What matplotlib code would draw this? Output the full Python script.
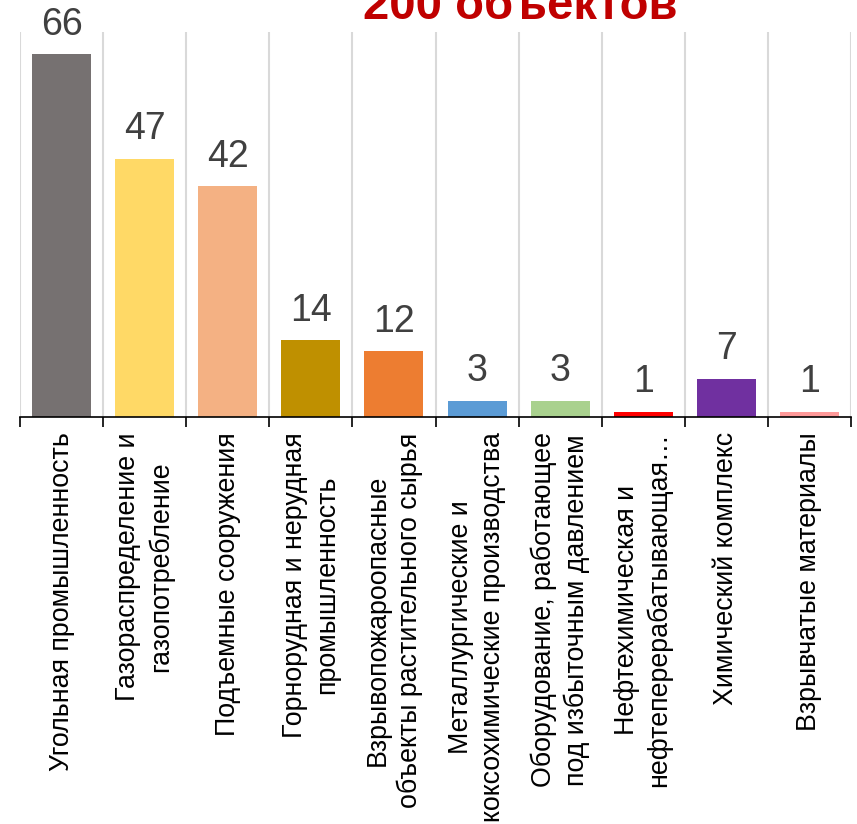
import matplotlib
matplotlib.use("Agg")
import matplotlib.pyplot as plt
import numpy as np

categories = [
    "Угольная промышленность",
    "Газораспределение и\nгазопотребление",
    "Подъемные сооружения",
    "Горнорудная и нерудная\nпромышленность",
    "Взрывопожароопасные\nобъекты растительного сырья",
    "Металлургические и\nкоксохимические производства",
    "Оборудование, работающее\nпод избыточным давлением",
    "Нефтехимическая и\nнефтеперерабатывающая…",
    "Химический комплекс",
    "Взрывчатые материалы",
]
values = [66, 47, 42, 14, 12, 3, 3, 1, 7, 1]
colors = ["#767171", "#FFD966", "#F4B183", "#BF9000", "#ED7D31",
          "#5B9BD5", "#A9D18E", "#FF0000", "#7030A0", "#FF9999"]
title = "200 объектов"

plt.rcParams['font.family'] = ['Liberation Sans', 'DejaVu Sans']

fig = plt.figure(figsize=(8.57, 8.24), dpi=100)
ax = fig.add_axes([20/857, 407/824, 831/857, 385/824])

x = np.arange(len(values))
ax.bar(x, values, width=0.71, color=colors, zorder=3)
for xi, v in zip(x, values):
    ax.annotate(str(v), (xi, v), xytext=(0, 8), textcoords='offset points',
                ha='center', va='bottom', fontsize=27, color='#404040')

ax.set_xlim(-0.5, len(values) - 0.5)
ax.set_ylim(0, 70)
ax.set_yticks([])
ax.set_xticks(x)
ax.set_xticklabels(categories, rotation=90, fontsize=19.3, linespacing=1.3,
                   multialignment='center', va='top', ha='center')
ax.tick_params(axis='x', which='major', length=0, pad=11)
ax.set_xticks(np.arange(-0.5, len(values)), minor=True)
ax.tick_params(axis='x', which='minor', length=7, width=1.2, color='black')
ax.grid(axis='x', which='minor', color='#d9d9d9', linewidth=1.5, zorder=0)
for s in ['top', 'right', 'left']:
    ax.spines[s].set_visible(False)
ax.spines['bottom'].set_color('black')
ax.spines['bottom'].set_linewidth(1.2)
ax.spines['bottom'].set_zorder(4)

fig.text(520/857, 1 - 19/824, title, ha='center', va='baseline',
         fontsize=34, fontweight='bold', color='#C00000')

fig.savefig("out.png", dpi=100)
